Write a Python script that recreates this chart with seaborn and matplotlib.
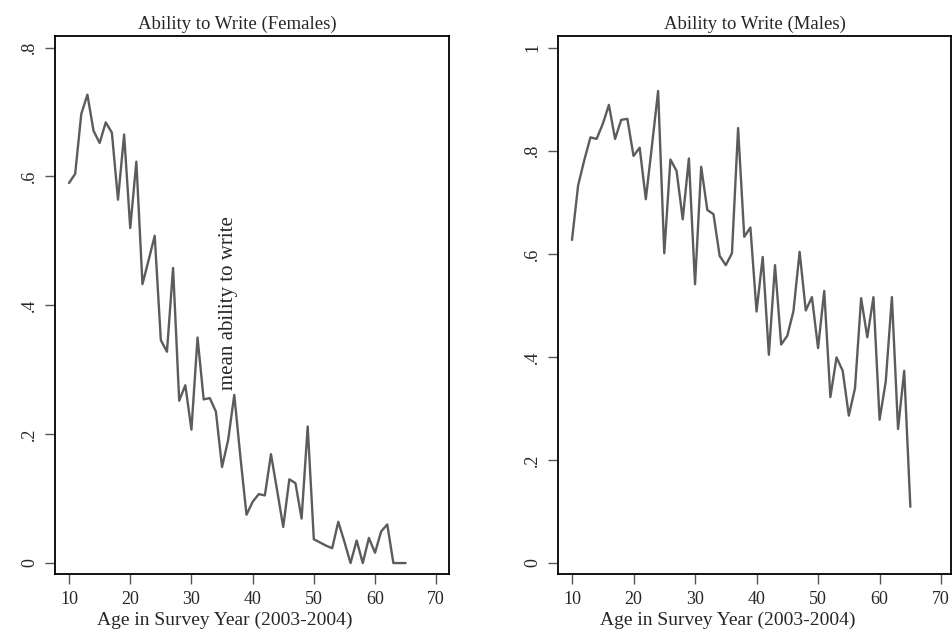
import numpy as np
import pandas as pd
import matplotlib
matplotlib.use("Agg")
import matplotlib.pyplot as plt
import seaborn as sns

# ---- data ----
female_age = list(range(10, 66))
female_write = [0.590, 0.604, 0.697, 0.727, 0.671, 0.652, 0.684, 0.668, 0.564, 0.665,
                0.520, 0.623, 0.433, 0.470, 0.508, 0.346, 0.328, 0.458, 0.252, 0.276,
                0.207, 0.350, 0.254, 0.256, 0.235, 0.149, 0.191, 0.261, 0.165, 0.075,
                0.095, 0.107, 0.105, 0.169, 0.113, 0.056, 0.130, 0.124, 0.069, 0.212,
                0.037, 0.032, 0.027, 0.023, 0.064, 0.033, 0.000, 0.035, 0.000, 0.039,
                0.016, 0.049, 0.060, 0.000, 0.000, 0.000]
male_age = list(range(10, 66))
male_write = [0.627, 0.733, 0.782, 0.826, 0.823, 0.852, 0.889, 0.823, 0.860, 0.862,
              0.790, 0.806, 0.706, 0.810, 0.916, 0.601, 0.783, 0.761, 0.667, 0.785,
              0.541, 0.769, 0.685, 0.677, 0.596, 0.578, 0.601, 0.844, 0.633, 0.651,
              0.488, 0.594, 0.404, 0.578, 0.424, 0.441, 0.489, 0.604, 0.490, 0.516,
              0.417, 0.528, 0.322, 0.399, 0.373, 0.286, 0.339, 0.514, 0.438, 0.516,
              0.278, 0.352, 0.516, 0.260, 0.373, 0.109]

x_ticks = [10, 20, 30, 40, 50, 60, 70]
f_yticks = [0, 0.2, 0.4, 0.6, 0.8]
f_yticklabels = ["0", ".2", ".4", ".6", ".8"]
m_yticks = [0, 0.2, 0.4, 0.6, 0.8, 1.0]
m_yticklabels = ["0", ".2", ".4", ".6", ".8", "1"]

titles = ["Ability to Write (Females)", "Ability to Write (Males)"]
xlabel = "Age in Survey Year (2003-2004)"
annot = "mean ability to write"

df_f = pd.DataFrame({"age": female_age, "write": female_write})
df_m = pd.DataFrame({"age": male_age, "write": male_write})

sns.set_style("white")
plt.rcParams["font.family"] = ["Liberation Serif", "DejaVu Serif"]

fig = plt.figure(figsize=(9.52, 6.33), dpi=100)
ax1 = fig.add_axes([0.0578, 0.0932, 0.4139, 0.8499])
ax2 = fig.add_axes([0.5861, 0.0932, 0.4128, 0.8499])

line_color = "#5c5c5c"

for ax, df, yt, ytl, ttl, ylim, xlim, tx in [
    (ax1, df_f, f_yticks, f_yticklabels, titles[0], (-0.017, 0.818), (7.71, 72.1), 0.462),
    (ax2, df_m, m_yticks, m_yticklabels, titles[1], (-0.0214, 1.0227), (7.72, 71.6), 0.5),
]:
    sns.lineplot(data=df, x="age", y="write", ax=ax, color=line_color, linewidth=1.7)
    ax.set_xlim(*xlim)
    ax.set_ylim(*ylim)
    ax.set_xticks(x_ticks)
    ax.set_xticklabels([str(t) for t in x_ticks], fontsize=13)
    ax.set_yticks(yt)
    ax.set_yticklabels(ytl, fontsize=13, rotation=90, va="center")
    ax.set_title(ttl, fontsize=13.5, pad=5, x=tx)
    ax.set_xlabel(xlabel, fontsize=14)
    ax.xaxis.set_label_coords(0.432, -0.086, transform=ax.transAxes)
    ax.xaxis.label.set_va("center")
    ax.set_ylabel("")
    ax.tick_params(axis="both", which="major", direction="out", length=7,
                   width=1.0, color="#555555", pad=5, bottom=True, left=True)
    for s in ax.spines.values():
        s.set_color("black")
        s.set_linewidth(1.3)
        s.set_visible(True)

ax1.text(36.0, 0.269, annot, rotation=90, ha="center", va="bottom", fontsize=15)

fig.savefig("out.png", dpi=100)
